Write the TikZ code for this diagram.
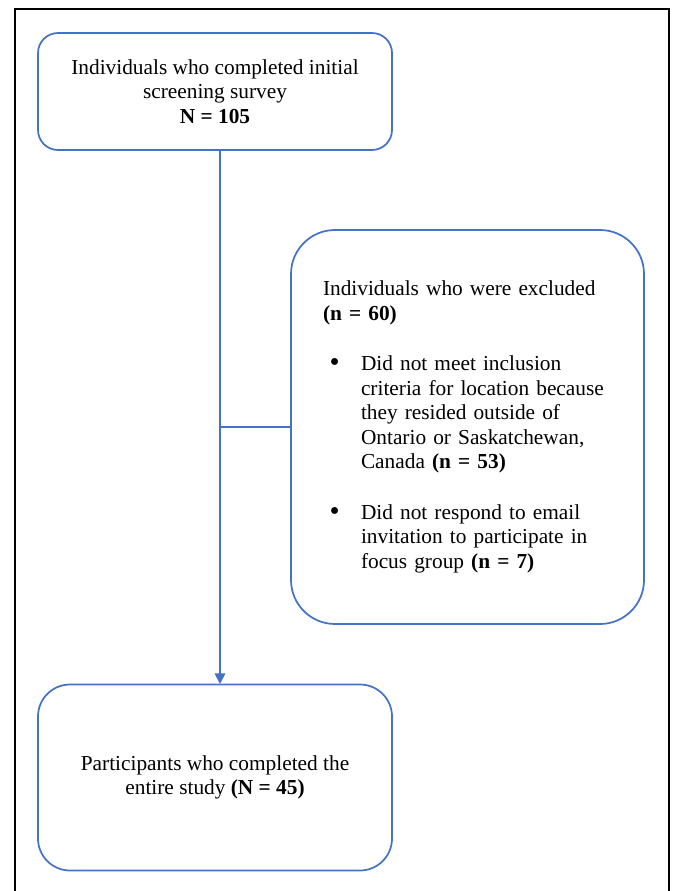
\documentclass[tikz,border=0pt]{standalone}
\usepackage{fontspec}
\setmainfont{Liberation Serif}
\usetikzlibrary{arrows.meta}

\definecolor{flowblue}{HTML}{4472C4}
\newcommand{\flowbullet}{\makebox[28.5pt][l]{\hspace{5pt}\raisebox{-0.9pt}{\scalebox{1.35}{\textbullet}}}}
\tikzset{
  flowbox/.style={draw=flowblue, line width=1.3pt, align=center,
    font=\fontsize{16}{18.4}\selectfont, inner sep=0pt},
  flowline/.style={draw=flowblue, line width=1.3pt}
}

\begin{document}
\begin{tikzpicture}[x=0.75pt, y=-0.75pt]
      \useasboundingbox (0, 0) rectangle (675, 891);
      \draw[line width=1.6pt] (15, 891) -- (15, 9) -- (669, 9) -- (669, 891);
      % boxes
      \node[flowbox, rounded corners=15pt, minimum width=265.5pt, minimum height=87.75pt]
        (screened) at (215, 91.5)
        {Individuals who completed initial\\ screening survey\\ \textbf{N = 105}};
      \node[flowbox, rounded corners=33pt, minimum height=295.5pt, text width=216.75pt,
        inner xsep=24pt, align=left] (excluded) at (467.5, 427)
        {Individuals who were excluded\\
         \textbf{(n = 60)}\\[19.5pt]
         \flowbullet Did not meet inclusion\\
         \hspace*{28.5pt}criteria for location because\\
         \hspace*{28.5pt}they resided outside of\\
         \hspace*{28.5pt}Ontario or Saskatchewan,\\
         \hspace*{28.5pt}Canada \textbf{(n = 53)}\\[19.5pt]
         \flowbullet Did not respond to email\\
         \hspace*{28.5pt}invitation to participate in\\
         \hspace*{28.5pt}focus group \textbf{(n = 7)}};
      \node[flowbox, rounded corners=24pt, minimum width=265.5pt, minimum height=139.5pt]
        (completed) at (215, 777.5)
        {Participants who completed the\\ entire study \textbf{(N = 45)}};
      % connectors
      \coordinate (top) at (220, 150);
      \coordinate (bottom) at (220, 684);
      \draw[flowline, -{Triangle[width=8pt, length=8pt]}] (top) -- (bottom);
      \draw[flowline] (excluded.west -| top) -- (excluded.west);
    \end{tikzpicture}
\end{document}
